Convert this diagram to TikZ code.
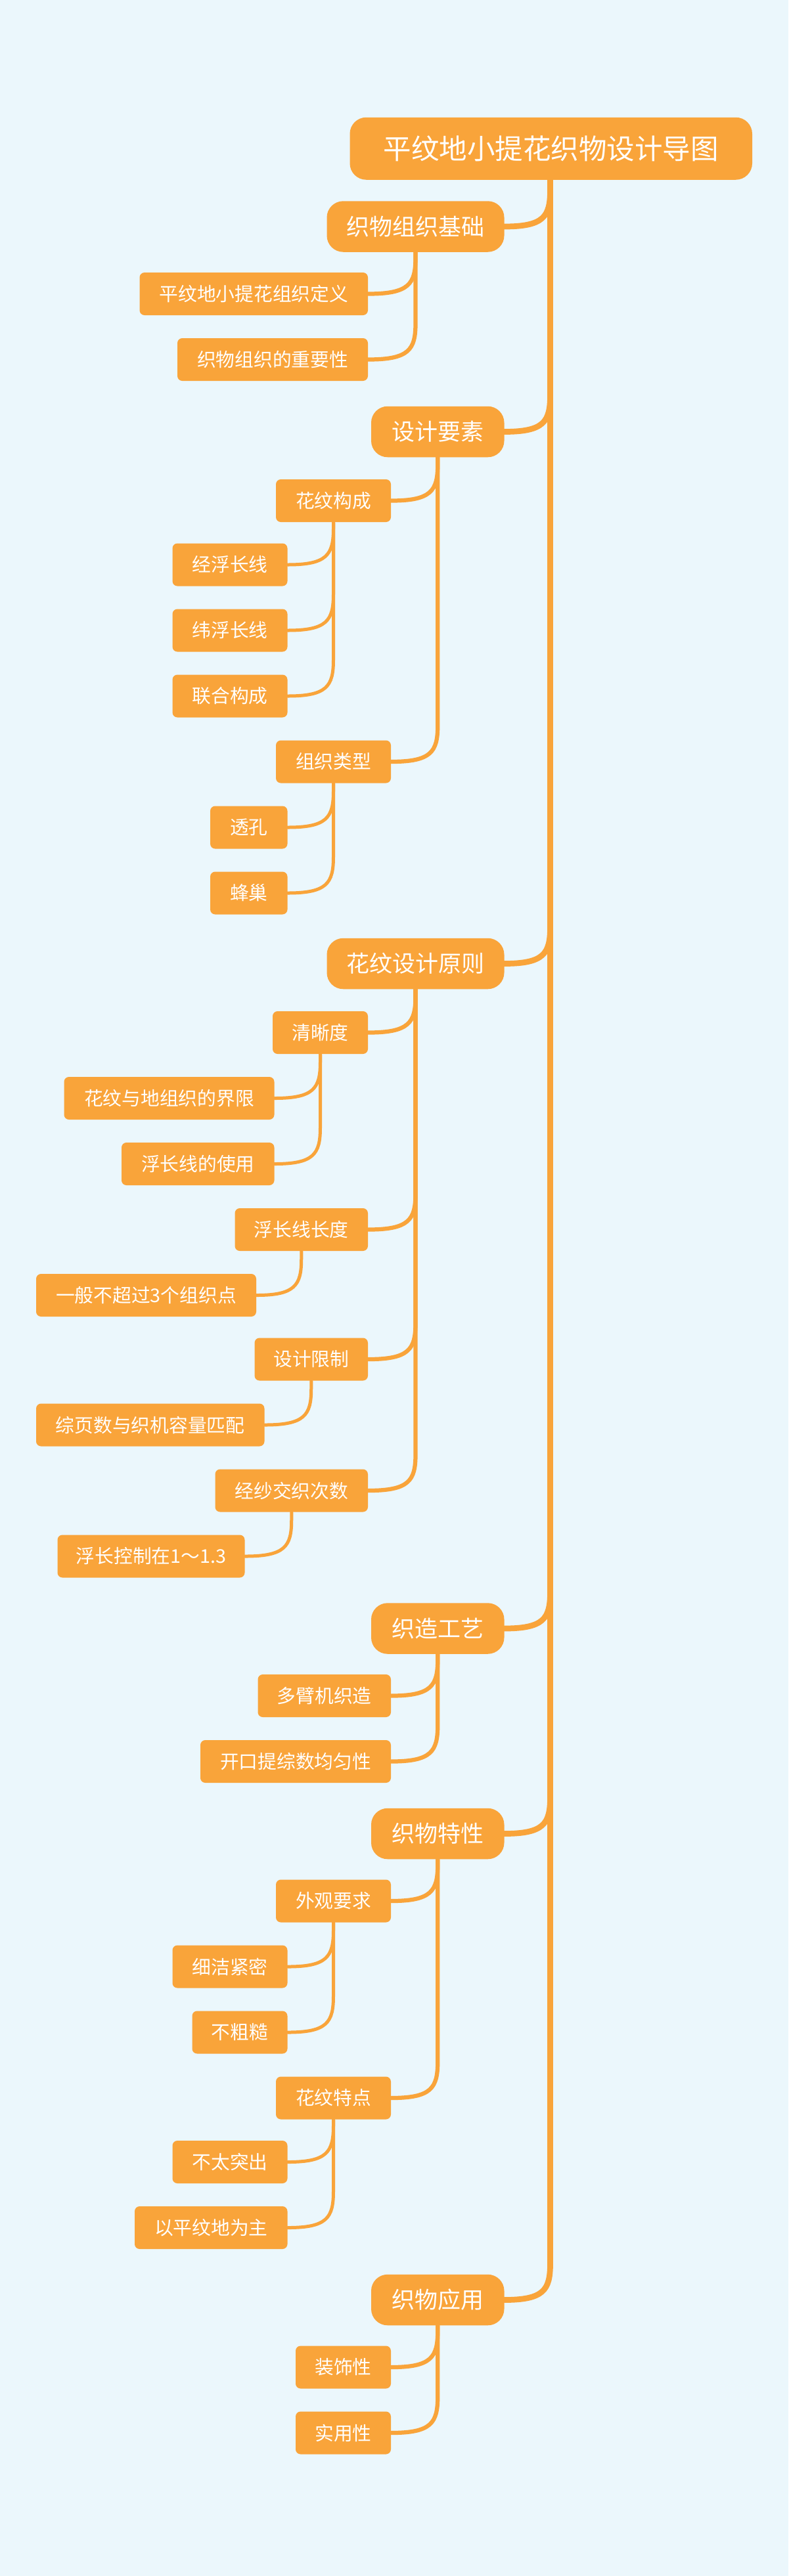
\documentclass[tikz,border=0pt]{standalone}
\usepackage{fontspec}
\setmainfont{Noto Sans CJK SC}
\usetikzlibrary{calc}
\definecolor{bg}{HTML}{EBF7FC}
\definecolor{org}{HTML}{F9A43A}
\tikzset{
 base/.style={fill=org,text=white,inner sep=0pt,minimum height=26},
 rootn/.style={base,rounded corners=10,minimum height=38,font=\fontsize{17}{19}\selectfont},
 lone/.style={base,rounded corners=10,minimum height=31,font=\fontsize{14}{16}\selectfont},
 ltwo/.style={base,rounded corners=3,font=\fontsize{11.5}{14}\selectfont},
 link/.style={to path={(\tikztostart) -- ($(\tikztostart|-\tikztotarget)+(0,-22)$) .. controls ($(\tikztostart|-\tikztotarget)+(0,-6)$) and ($(\tikztostart|-\tikztotarget)+(-4,0)$) .. (\tikztotarget)}},
}
\newcommand{\bx}[6]{\node[#1,minimum width=#4-#3] (#2) at ({(#3+#4)/2},#5) {#6};}
\begin{document}
\begin{tikzpicture}[x=1pt,y=-1pt]
\fill[bg] (0,0) rectangle (480,1569.2);
\useasboundingbox (0,0) rectangle (480,1569.2);
\begin{scope}[draw=org,line cap=round]
\begin{scope}[line width=3.5]
\foreach \n/\y in {a/138,b/263,c/587,d/992,e/1117,f/1401} \draw (335,109) to[link] (307,\y);
\end{scope}
\end{scope}
\bx{rootn}{r}{213}{458}{90.5}{平纹地小提花织物设计导图}
\bx{lone}{a}{199}{307}{138}{织物组织基础}
\bx{lone}{b}{226}{307}{263}{设计要素}
\bx{lone}{c}{199}{307}{587}{花纹设计原则}
\bx{lone}{d}{226}{307}{992}{织造工艺}
\bx{lone}{e}{226}{307}{1117}{织物特性}
\bx{lone}{f}{226}{307}{1401}{织物应用}
\bx{ltwo}{a1}{85}{224}{179}{平纹地小提花组织定义}
\bx{ltwo}{a2}{108}{224}{219}{织物组织的重要性}
\bx{ltwo}{b1}{168}{238}{305}{花纹构成}
\bx{ltwo}{b11}{105}{175}{344}{经浮长线}
\bx{ltwo}{b12}{105}{175}{384}{纬浮长线}
\bx{ltwo}{b13}{105}{175}{424}{联合构成}
\bx{ltwo}{b2}{168}{238}{464}{组织类型}
\bx{ltwo}{b21}{128}{175}{504}{透孔}
\bx{ltwo}{b22}{128}{175}{544}{蜂巢}
\bx{ltwo}{c1}{166}{224}{629}{清晰度}
\bx{ltwo}{c11}{39}{167}{669}{花纹与地组织的界限}
\bx{ltwo}{c12}{74}{167}{709}{浮长线的使用}
\bx{ltwo}{c2}{143}{224}{749}{浮长线长度}
\bx{ltwo}{c21}{22}{156}{789}{一般不超过3个组织点}
\bx{ltwo}{c3}{155}{224}{828}{设计限制}
\bx{ltwo}{c31}{22}{161}{868}{综页数与织机容量匹配}
\bx{ltwo}{c4}{131}{224}{908}{经纱交织次数}
\bx{ltwo}{c41}{35}{149}{948}{浮长控制在1～1.3}
\bx{ltwo}{d1}{157}{238}{1033}{多臂机织造}
\bx{ltwo}{d2}{122}{238}{1073}{开口提综数均匀性}
\bx{ltwo}{e1}{168}{238}{1158}{外观要求}
\bx{ltwo}{e11}{105}{175}{1198}{细洁紧密}
\bx{ltwo}{e12}{117}{175}{1238}{不粗糙}
\bx{ltwo}{e2}{168}{238}{1278}{花纹特点}
\bx{ltwo}{e21}{105}{175}{1317}{不太突出}
\bx{ltwo}{e22}{82}{175}{1357}{以平纹地为主}
\bx{ltwo}{f1}{180}{238}{1442}{装饰性}
\bx{ltwo}{f2}{180}{238}{1482}{实用性}
\begin{scope}[draw=org,line cap=round]
\begin{scope}[line width=2.5]
\foreach \p/\n in {a/a1,a/a2,b/b1,b/b2,c/c1,c/c2,c/c3,c/c4,d/d1,d/d2,e/e1,e/e2,f/f1,f/f2} \draw (\p.south) to[link] (\n.east);
\end{scope}
\begin{scope}[line width=2]
\foreach \p/\n in {b1/b11,b1/b12,b1/b13,b2/b21,b2/b22,c1/c11,c1/c12,c2/c21,c3/c31,c4/c41,e1/e11,e1/e12,e2/e21,e2/e22} \draw (\p.south) to[link] (\n.east);
\end{scope}
\end{scope}
\end{tikzpicture}
\end{document}
